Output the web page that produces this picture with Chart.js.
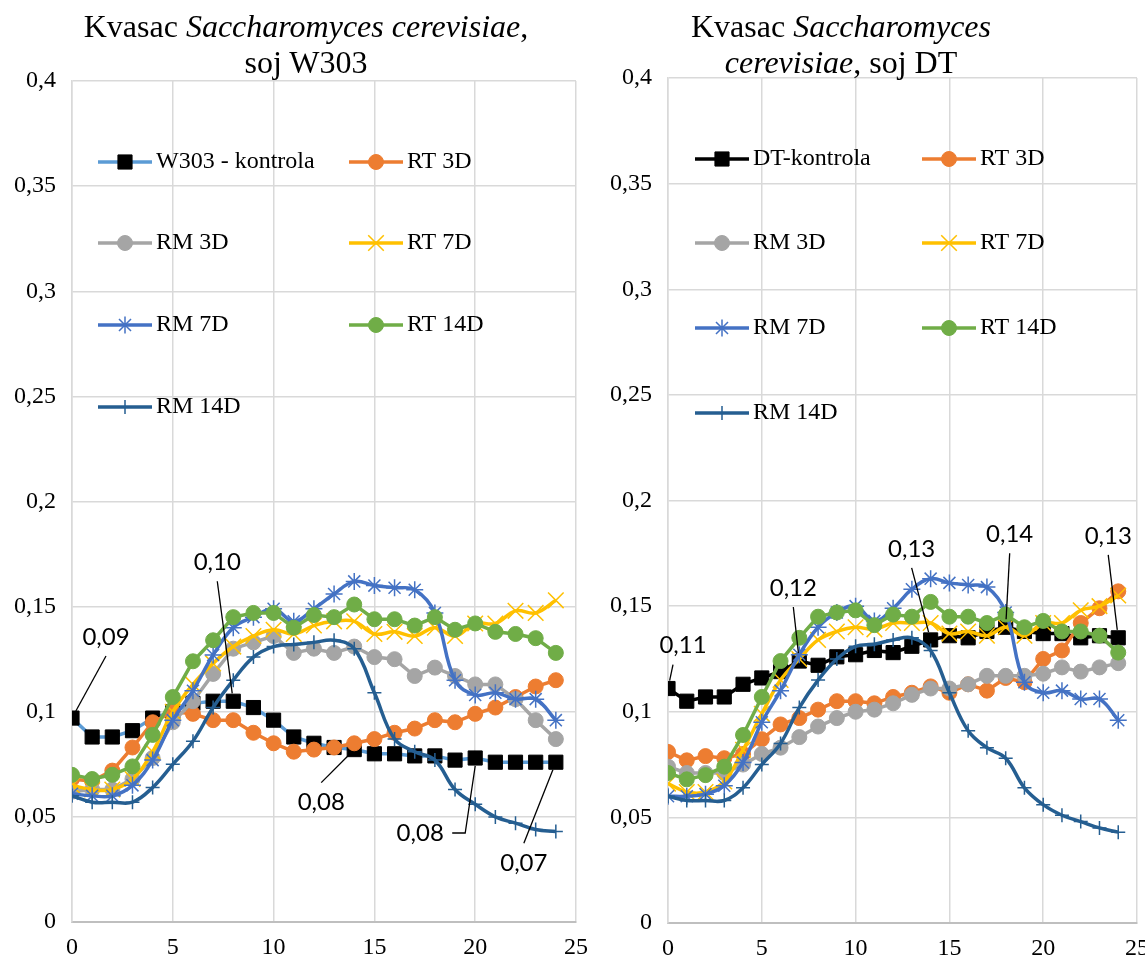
<!DOCTYPE html>
<html>
<head>
<meta charset="utf-8">
<script src="https://cdn.jsdelivr.net/npm/chart.js@4"></script>
<style>
  html, body { margin: 0; padding: 0; background: #fff; overflow: hidden; }
  body { width: 1145px; height: 963px; position: relative; }
  .box { position: absolute; top: 0; height: 963px; }
  .title { position: absolute; width: 640px; text-align: center; font-family: "Liberation Serif", serif;
           font-size: 32px; line-height: 36px; color: #000; z-index: 2; }
</style>
</head>
<body>
<div class="box" style="left:0;width:599px"><canvas id="w303Chart"></canvas></div>
<div class="box" style="left:590px;width:570px"><canvas id="dtChart"></canvas></div>
<div class="title" style="left:-14px;top:8px">Kvasac <i>Saccharomyces cerevisiae</i>,<br>soj W303</div>
<div class="title" style="left:521px;top:8px">Kvasac <i>Saccharomyces</i><br><i>cerevisiae</i>, soj DT</div>
<script>
// hours (x axis)
const hours = [0,1,2,3,4,5,6,7,8,9,10,11,12,13,14,15,16,17,18,19,20,21,22,23,24];

// strain W303
const w303Kontrola = [0.097,0.088,0.088,0.091,0.097,0.100,0.104,0.105,0.105,0.102,0.096,0.088,0.085,0.083,0.082,0.080,0.080,0.079,0.079,0.077,0.078,0.076,0.076,0.076,0.076];
const w303RT3D  = [0.068,0.067,0.072,0.083,0.095,0.100,0.099,0.096,0.096,0.090,0.085,0.081,0.082,0.083,0.085,0.087,0.090,0.092,0.096,0.095,0.099,0.102,0.107,0.112,0.115];
const w303RM3D  = [0.062,0.063,0.063,0.068,0.078,0.095,0.105,0.118,0.130,0.133,0.136,0.128,0.130,0.128,0.131,0.126,0.125,0.117,0.121,0.117,0.113,0.113,0.106,0.096,0.087];
const w303RT7D  = [0.065,0.063,0.063,0.068,0.081,0.100,0.113,0.123,0.131,0.136,0.139,0.137,0.141,0.143,0.143,0.137,0.138,0.136,0.140,0.136,0.142,0.142,0.148,0.147,0.153];
const w303RM7D  = [0.061,0.060,0.060,0.065,0.077,0.096,0.110,0.127,0.140,0.145,0.149,0.143,0.149,0.156,0.162,0.160,0.159,0.158,0.147,0.115,0.108,0.109,0.106,0.106,0.096];
const w303RT14D = [0.070,0.068,0.070,0.074,0.089,0.107,0.124,0.134,0.145,0.147,0.147,0.140,0.146,0.145,0.151,0.144,0.144,0.141,0.145,0.139,0.142,0.138,0.137,0.135,0.128];
const w303RM14D = [0.060,0.057,0.057,0.057,0.064,0.075,0.086,0.102,0.115,0.126,0.131,0.132,0.133,0.134,0.130,0.109,0.087,0.081,0.077,0.063,0.056,0.050,0.047,0.044,0.043];
const w303LabelIdx  = [0, 8, 14, 20, 24];
const w303LabelText = ["0,09", "0,10", "0,08", "0,08", "0,07"];

// strain DT
const dtKontrola = [0.111,0.105,0.107,0.107,0.113,0.116,0.119,0.124,0.122,0.126,0.127,0.129,0.128,0.131,0.134,0.136,0.135,0.138,0.140,0.138,0.137,0.137,0.135,0.136,0.135];
const dtRT3D  = [0.081,0.077,0.079,0.078,0.080,0.087,0.094,0.097,0.101,0.105,0.105,0.104,0.107,0.109,0.112,0.109,0.113,0.110,0.116,0.114,0.125,0.129,0.142,0.149,0.157];
const dtRM3D  = [0.074,0.071,0.071,0.071,0.075,0.080,0.083,0.088,0.093,0.097,0.100,0.101,0.104,0.108,0.111,0.111,0.113,0.117,0.117,0.117,0.118,0.121,0.119,0.121,0.123];
const dtRT7D  = [0.066,0.062,0.062,0.067,0.082,0.099,0.115,0.125,0.134,0.138,0.140,0.139,0.142,0.142,0.142,0.137,0.138,0.136,0.140,0.136,0.142,0.142,0.148,0.150,0.155];
const dtRM7D  = [0.060,0.060,0.061,0.065,0.076,0.095,0.110,0.127,0.140,0.147,0.150,0.143,0.149,0.158,0.163,0.161,0.160,0.159,0.147,0.114,0.109,0.110,0.106,0.106,0.096];
const dtRT14D = [0.071,0.068,0.070,0.074,0.089,0.107,0.124,0.135,0.145,0.147,0.148,0.141,0.146,0.145,0.152,0.145,0.145,0.142,0.146,0.140,0.143,0.138,0.138,0.136,0.128];
const dtRM14D = [0.060,0.058,0.058,0.058,0.064,0.075,0.085,0.102,0.115,0.125,0.131,0.132,0.134,0.135,0.129,0.109,0.091,0.083,0.078,0.064,0.056,0.051,0.048,0.045,0.043];
const dtLabelIdx  = [0, 7, 14, 18, 24];
const dtLabelText = ["0,11", "0,12", "0,13", "0,14", "0,13"];

// line / marker looks (Excel style)
const looks = {
  kontrola: { line: "#5B9BD5", fill: "#000", style: "rect", r: 10, bw: 1, tension: 0 },
  rt3d:  { line: "#ED7D31", fill: "#ED7D31", style: "circle", r: 7.5, bw: 1, tension: 0 },
  rm3d:  { line: "#A5A5A5", fill: "#A5A5A5", style: "circle", r: 7.5, bw: 1, tension: 0 },
  rt7d:  { line: "#FFC000", fill: "#FFC000", style: "crossRot", r: 11, bw: 1.5, tension: 0.4 },
  rm7d:  { line: "#4472C4", fill: "#4472C4", style: "star", r: 8.5, bw: 1.5, tension: 0.4 },
  rt14d: { line: "#70AD47", fill: "#70AD47", style: "circle", r: 7.5, bw: 1, tension: 0 },
  rm14d: { line: "#255E91", fill: "#255E91", style: "cross", r: 7, bw: 1.5, tension: 0.4 }
};

function makeSet(label, values, look, order) {
  return {
    label: label,
    data: hours.map((h, i) => ({ x: h, y: values[i] })),
    borderColor: look.line,
    borderWidth: 3.5,
    tension: look.tension,
    fill: false,
    pointStyle: look.style,
    pointRadius: look.r,
    pointHoverRadius: look.r,
    pointBackgroundColor: look.fill,
    pointBorderColor: look.fill,
    pointBorderWidth: look.bw,
    order: order
  };
}

// legend drawn inside the plot, two columns
const insideLegend = {
  id: "insideLegend",
  afterDraw(chart, args, opts) {
    const { ctx, chartArea } = chart;
    ctx.save();
    chart.data.datasets.forEach((ds, k) => {
      const x = chartArea.left + opts.cols[k % 2];
      const y = chartArea.top + opts.rows[Math.floor(k / 2)];
      ctx.strokeStyle = ds.borderColor;
      ctx.lineWidth = ds.borderWidth;
      ctx.beginPath();
      ctx.moveTo(x, y);
      ctx.lineTo(x + 54, y);
      ctx.stroke();
      ctx.fillStyle = ds.pointBackgroundColor;
      ctx.strokeStyle = ds.pointBorderColor;
      ctx.lineWidth = ds.pointBorderWidth;
      Chart.helpers.drawPoint(ctx, { pointStyle: ds.pointStyle, radius: ds.pointRadius, rotation: 0, borderWidth: ds.pointBorderWidth }, x + 27, y);
      ctx.fillStyle = "#000";
      ctx.font = '24px "Liberation Serif"';
      ctx.textAlign = "left";
      ctx.textBaseline = "middle";
      ctx.fillText(ds.label, x + 58, y);
    });
    ctx.restore();
  }
};

// value callouts on the control series
const callouts = {
  id: "callouts",
  afterDatasetsDraw(chart, args, opts) {
    const { ctx } = chart;
    const meta = chart.getDatasetMeta(opts.dataset);
    ctx.save();
    ctx.font = '24px Lato';
    ctx.fillStyle = "#000";
    ctx.strokeStyle = "#000";
    ctx.lineWidth = 1.3;
    ctx.textAlign = "center";
    ctx.textBaseline = "middle";
    opts.idx.forEach((i, k) => {
      const p = meta.data[i];
      const pl = opts.place[k];
      const tx = p.x + pl.dx, ty = p.y + pl.dy;
      ctx.beginPath();
      if (pl.elbow) {
        ctx.moveTo(tx + 32, ty);
        ctx.lineTo(p.x - 10, ty);
        ctx.lineTo(p.x, p.y + 8);
      } else {
        const ax = tx + (pl.ax || 0), ay = ty + (pl.dy < 0 ? 19 : -20);
        const len = Math.hypot(ax - p.x, ay - p.y);
        ctx.moveTo(p.x + (ax - p.x) / len * 8, p.y + (ay - p.y) / len * 8);
        ctx.lineTo(ax, ay);
      }
      ctx.stroke();
      ctx.fillText(opts.text[k], tx, ty);
    });
    ctx.restore();
  }
};

function axes(yWidth, xHeight) {
  const tickFont = { family: "Liberation Serif", size: 24 };
  return {
    x: {
      type: "linear", min: 0, max: 25,
      ticks: { stepSize: 5, font: tickFont, color: "#000", padding: 11, maxRotation: 0 },
      grid: { color: "#D9D9D9", lineWidth: 1.5, drawTicks: false },
      border: { color: "#BFBFBF", width: 2 },
      afterFit: s => { s.height = xHeight; }
    },
    y: {
      min: 0, max: 0.4,
      ticks: {
        stepSize: 0.05, font: tickFont, color: "#000", padding: 16,
        callback: v => String(Math.round(v * 100) / 100).replace(".", ",")
      },
      grid: { color: "#D9D9D9", lineWidth: 1.5, drawTicks: false },
      border: { color: "#D9D9D9", width: 1.5 },
      afterFit: s => { s.width = yWidth; }
    }
  };
}

function baseOptions(padding, yWidth, xHeight) {
  return {
    responsive: true,
    maintainAspectRatio: false,
    animation: false,
    layout: { padding: padding },
    scales: axes(yWidth, xHeight),
    plugins: { legend: { display: false }, tooltip: { enabled: false } }
  };
}

// Kvasac W303
const w303Opts = baseOptions({ top: 81, right: 0, bottom: 0, left: 0 }, 72, 41);
w303Opts.plugins.insideLegend = { cols: [26, 277], rows: [81, 162, 244, 326] };
w303Opts.plugins.callouts = {
  dataset: 0, idx: w303LabelIdx, text: w303LabelText,
  place: [
    { dx: 34, dy: -81 }, { dx: -16, dy: -139 }, { dx: -33, dy: 53 },
    { dx: -55, dy: 75, elbow: true }, { dx: -32, dy: 101 }
  ]
};
new Chart(document.getElementById("w303Chart"), {
  type: "line",
  data: {
    datasets: [
      makeSet("W303 - kontrola", w303Kontrola, looks.kontrola, 6),
      makeSet("RT 3D", w303RT3D, looks.rt3d, 5),
      makeSet("RM 3D", w303RM3D, looks.rm3d, 4),
      makeSet("RT 7D", w303RT7D, looks.rt7d, 3),
      makeSet("RM 7D", w303RM7D, looks.rm7d, 2),
      makeSet("RT 14D", w303RT14D, looks.rt14d, 1),
      makeSet("RM 14D", w303RM14D, looks.rm14d, 0)
    ]
  },
  options: w303Opts,
  plugins: [insideLegend, callouts]
});

// Kvasac DT
const dtOpts = baseOptions({ top: 78, right: 0, bottom: 0, left: 0 }, 78, 40);
dtOpts.plugins.insideLegend = { cols: [27, 254], rows: [81, 165, 250, 335] };
dtOpts.plugins.callouts = {
  dataset: 0, idx: dtLabelIdx, text: dtLabelText,
  place: [
    { dx: 15, dy: -43, ax: -10 }, { dx: -6, dy: -73 }, { dx: -19, dy: -91 },
    { dx: 4, dy: -93 }, { dx: -10, dy: -102 }
  ]
};
const dtKontrolaLook = Object.assign({}, looks.kontrola, { line: "#000" });
new Chart(document.getElementById("dtChart"), {
  type: "line",
  data: {
    datasets: [
      makeSet("DT-kontrola", dtKontrola, dtKontrolaLook, 6),
      makeSet("RT 3D", dtRT3D, looks.rt3d, 5),
      makeSet("RM 3D", dtRM3D, looks.rm3d, 4),
      makeSet("RT 7D", dtRT7D, looks.rt7d, 3),
      makeSet("RM 7D", dtRM7D, looks.rm7d, 2),
      makeSet("RT 14D", dtRT14D, looks.rt14d, 1),
      makeSet("RM 14D", dtRM14D, looks.rm14d, 0)
    ]
  },
  options: dtOpts,
  plugins: [insideLegend, callouts]
});
</script>
</body>
</html>
